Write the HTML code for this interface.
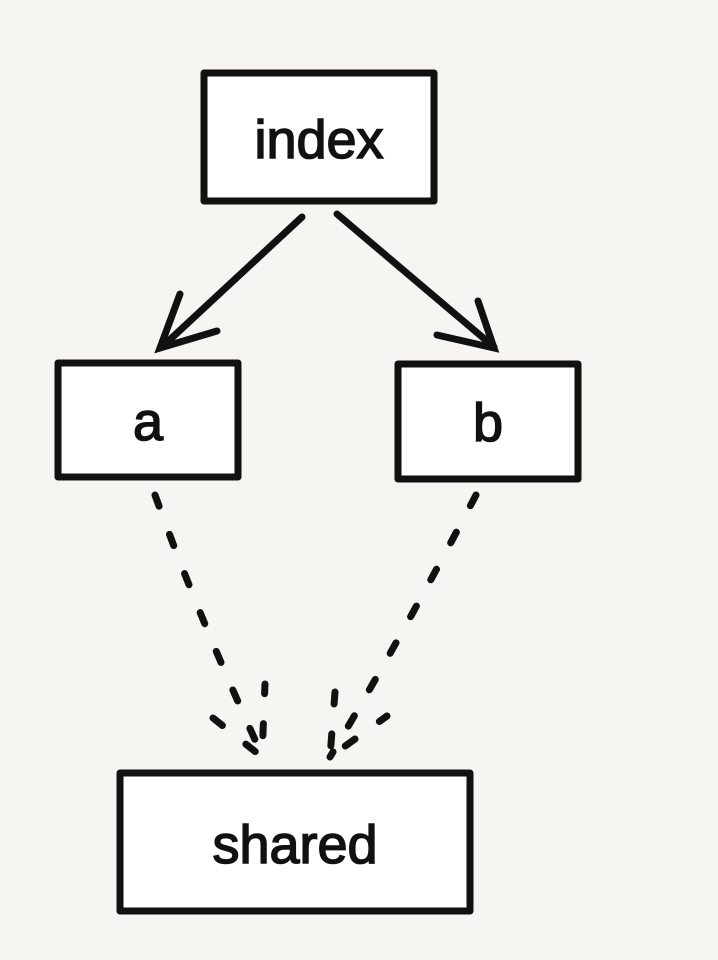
<!DOCTYPE html>
<html><head><meta charset="utf-8"><style>
html,body{margin:0;padding:0;background:#f7f5f2;}
svg{display:block}
text{font-family:"Liberation Sans",sans-serif;fill:#111;stroke:#111;stroke-width:1.5;}
</style></head><body>
<svg width="718" height="960" viewBox="0 0 718 960" xmlns="http://www.w3.org/2000/svg">
<rect width="718" height="960" fill="#f7f5f2"/>
<g fill="#fff" stroke="#111" stroke-width="7" stroke-linejoin="round">
<rect x="204" y="73" width="230" height="128"/>
<rect x="58" y="363" width="180" height="114"/>
<rect x="398" y="364" width="180" height="115"/>
<rect x="120" y="773" width="350" height="138"/>
</g>
<g font-size="54" text-anchor="middle">
<text x="319" y="158">index</text>
<text x="148" y="440">a</text>
<text x="488" y="441">b</text>
<text x="295" y="863">shared</text>
</g>
<g stroke="#111" stroke-width="7" stroke-linecap="round" fill="none">
<path d="M302 217 L162 347"/>
<path d="M180 294 L160 348 L217 331"/>
<path d="M337 214 L494 347"/>
<path d="M437 335 L494 348 L478 301"/>
</g>
<g stroke="#111" stroke-width="7" stroke-linecap="round" fill="none" stroke-dasharray="12 30">
<path d="M155 495 Q200 620 262 755"/>
<path d="M213 718 L262 757 L265 684"/>
<path d="M476 495 Q400 640 330 757"/>
<path d="M335 692 L330 757 L387 716"/>
</g>
</svg>
</body></html>
